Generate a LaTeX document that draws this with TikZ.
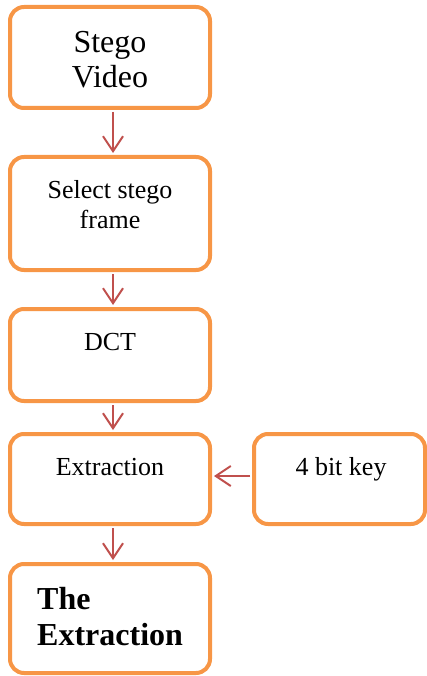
\documentclass[tikz,border=0pt]{standalone}
\usepackage{fontspec}
\setmainfont{Liberation Serif}
\usetikzlibrary{arrows.meta,calc}

\definecolor{boxorange}{HTML}{F79646}
\definecolor{arrowred}{HTML}{C0504D}

\tikzset{
  stepbox/.style={draw=boxorange, line width=4pt, rounded corners=14pt,
    minimum width=200pt, inner sep=0pt, fill=white},
  flow/.style={draw=arrowred, line width=2pt, shorten <=2pt, shorten >=2pt,
    -{Straight Barb[length=15pt,width=20pt]}},
  steptext/.style={inner sep=0pt, align=center, font=\fontsize{26}{30}\selectfont},
}

\begin{document}
\begin{tikzpicture}[x=1pt, y=-1pt]
  \useasboundingbox (0,0) rectangle (427,676);

  % boxes
  \node[stepbox, minimum height=101pt] (video) at (110,57.5) {};
  \node[stepbox, minimum height=113pt] (select) at (110,213.5) {};
  \node[stepbox, minimum height=92pt] (dct) at (110,355) {};
  \node[stepbox, minimum height=90pt] (extract) at (110,479) {};
  \node[stepbox, minimum height=90pt, minimum width=171pt] (key) at (339.5,479) {};
  \node[stepbox, minimum height=109pt] (result) at (110,618.5) {};

  % texts (base = last line)
  \node[steptext, anchor=base, font=\fontsize{32}{35}\selectfont] (videotxt) at (110,88) {Stego\\Video};
  \node[steptext, anchor=base] (selecttxt) at (110,228) {Select stego\\frame};
  \node[steptext, anchor=base] (dcttxt) at (110,350) {DCT};
  \node[steptext, anchor=base] (extracttxt) at (110,475) {Extraction};
  \node[steptext, anchor=base] (keytxt) at (341,475) {4 bit key};
  \node[steptext, anchor=base west, align=left, font=\fontsize{32}{36}\bfseries] (resulttxt) at (37,645) {The\\Extraction};

  % arrows
  \draw[flow] ($(video.south)+(3,0)$) -- ($(select.north)+(3,0)$);
  \draw[flow] ($(select.south)+(3,0)$) -- ($(dct.north)+(3,0)$);
  \draw[flow] ($(dct.south)+(3,0)$) -- ($(extract.north)+(3,0)$);
  \draw[flow] ($(extract.south)+(3,0)$) -- ($(result.north)+(3,0)$);
  \draw[flow] ($(key.west)+(0,-3)$) -- ($(extract.east)+(0,-3)$);
\end{tikzpicture}
\end{document}
